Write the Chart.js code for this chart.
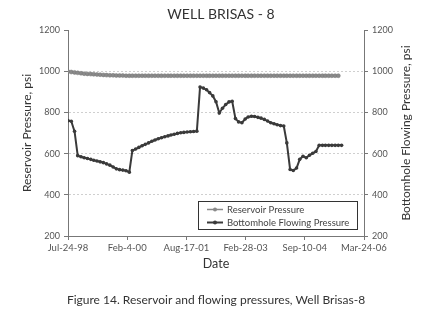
<!DOCTYPE html>
<html>
<head>
<meta charset="utf-8">
<script src="https://cdn.jsdelivr.net/npm/chart.js@4/dist/chart.umd.min.js"></script>
<style>
  html, body { margin: 0; padding: 0; background: #fff; }
  #wrap { width: 433px; height: 318px; }
</style>
</head>
<body>
<div id="wrap"><canvas id="chart" width="433" height="318"></canvas></div>
<script>
// Well Brisas-8: reservoir vs bottomhole flowing pressure, monthly readings from Jul-98

const chartTitle = 'WELL BRISAS - 8';
const caption = 'Figure 14. Reservoir and flowing pressures, Well Brisas-8';
const leftTitle = 'Reservoir Pressure, psi';
const rightTitle = 'Bottomhole Flowing Pressure, psi';
const xTitle = 'Date';

// x axis: days since Jul-24-98, one label every 560 days
const xTickLabels = ['Jul-24-98', 'Feb-4-00', 'Aug-17-01', 'Feb-28-03', 'Sep-10-04', 'Mar-24-06'];
const xTickStep = 560;
const yTicks = [200, 400, 600, 800, 1000, 1200];

const reservoirPressure = [
  998, 996, 994, 992, 990, 988, 987, 986, 985, 984,
  983, 982, 981, 980, 980, 979, 979, 979, 978, 978,
  978, 978, 978, 978, 978, 978, 978, 978, 978, 978,
  978, 978, 978, 978, 978, 978, 978, 978, 978, 978,
  978, 978, 978, 978, 978, 978, 978, 978, 978, 978,
  978, 978, 978, 978, 978, 978, 978, 978, 978, 978,
  978, 978, 978, 978, 978, 978, 978, 978, 978, 978,
  978, 978, 978, 978, 978, 978, 978, 978, 978, 978,
  978, 978, 978, 978, 978
];

const flowingPressure = [
  760, 757, 708, 590, 585, 580, 576, 572, 568, 564,
  560, 556, 550, 544, 535, 526, 522, 520, 517, 510,
  615, 622, 630, 638, 645, 652, 660, 666, 672, 677,
  682, 686, 690, 694, 698, 701, 703, 705, 706, 707,
  709, 923, 918, 910, 896, 880, 852, 797, 820, 838,
  851, 854, 770, 754, 750, 768, 778, 781, 780, 776,
  772, 766, 758, 750, 745, 740, 736, 734, 652, 523,
  518, 530, 572, 587, 580, 592, 602, 610, 640, 640,
  640, 640, 640, 640, 640, 640
];

const FONT = 'Lato, "Noto Sans", sans-serif';
const startDate = new Date(1998, 6, 24);

// day offset of the i-th monthly reading
function monthDay(i) {
  const d = new Date(1998, 6 + i, 24);
  return Math.round((d - startDate) / 86400000);
}

function toPoints(values) {
  return values.map((v, i) => ({ x: monthDay(i), y: v }));
}

const textPlugin = {
  id: 'texts',
  afterDraw(chart) {
    const ctx = chart.ctx;
    const area = chart.chartArea;
    ctx.save();
    ctx.fillStyle = '#333';
    ctx.textAlign = 'center';
    ctx.textBaseline = 'middle';

    ctx.font = '14px ' + FONT;
    ctx.fillText(chartTitle, 221, 14);

    ctx.font = '12.5px ' + FONT;
    ctx.fillText(xTitle, (area.left + area.right) / 2, 264);
    ctx.font = '12px ' + FONT;
    ctx.fillText(caption, 216, 300);

    ctx.font = '12px ' + FONT;
    ctx.save();
    ctx.translate(27, (area.top + area.bottom) / 2);
    ctx.rotate(-Math.PI / 2);
    ctx.fillText(leftTitle, 0, 0);
    ctx.restore();

    ctx.save();
    ctx.translate(406, (area.top + area.bottom) / 2);
    ctx.rotate(-Math.PI / 2);
    ctx.fillText(rightTitle, 0, 0);
    ctx.restore();

    // legend box inside the plot
    const box = { x: 198, y: 201, w: 159, h: 28 };
    ctx.fillStyle = '#fff';
    ctx.fillRect(box.x, box.y, box.w, box.h);
    ctx.strokeStyle = '#333';
    ctx.lineWidth = 1;
    ctx.strokeRect(box.x + 0.5, box.y + 0.5, box.w, box.h);
    chart.data.datasets.forEach((ds, k) => {
      const y = box.y + 8.5 + k * 13;
      ctx.strokeStyle = ds.borderColor;
      ctx.lineWidth = ds.borderWidth;
      ctx.beginPath();
      ctx.moveTo(box.x + 9, y);
      ctx.lineTo(box.x + 25, y);
      ctx.stroke();
      ctx.fillStyle = ds.pointBackgroundColor;
      ctx.beginPath();
      ctx.arc(box.x + 17, y, 2, 0, Math.PI * 2);
      ctx.fill();
      ctx.fillStyle = '#444';
      ctx.textAlign = 'left';
      ctx.font = '9.5px ' + FONT;
      ctx.fillText(ds.label, box.x + 29, y + 0.5);
    });
    ctx.restore();
  }
};

const gridColor = (c) => (c.tick && (c.tick.value === 200 || c.tick.value === 1200)) ? 'rgba(0,0,0,0)' : '#cfcfcf';
const plainNumber = (v) => String(v);

new Chart(document.getElementById('chart'), {
  type: 'line',
  data: {
    datasets: [
      {
        label: 'Reservoir Pressure',
        data: toPoints(reservoirPressure),
        borderColor: '#8a8a8a',
        backgroundColor: '#8a8a8a',
        pointBackgroundColor: '#8a8a8a',
        pointBorderColor: '#777',
        pointBorderWidth: 0.5,
        pointRadius: 2,
        borderWidth: 1.5,
        tension: 0
      },
      {
        label: 'Bottomhole Flowing Pressure',
        data: toPoints(flowingPressure),
        borderColor: '#3a3a3a',
        backgroundColor: '#3a3a3a',
        pointBackgroundColor: '#3a3a3a',
        pointBorderColor: '#3a3a3a',
        pointBorderWidth: 0,
        pointRadius: 1.8,
        borderWidth: 2,
        tension: 0
      }
    ]
  },
  options: {
    responsive: false,
    animation: false,
    layout: { padding: { top: 30, left: 0, right: 0, bottom: 0 } },
    plugins: {
      legend: { display: false },
      tooltip: { enabled: false }
    },
    scales: {
      x: {
        type: 'linear',
        min: 0,
        max: xTickStep * (xTickLabels.length - 1),
        afterFit: (s) => { s.height = 82; },
        ticks: {
          stepSize: xTickStep,
          color: '#555',
          font: { family: FONT, size: 9.5 },
          padding: 2,
          maxRotation: 0,
          callback: (v) => xTickLabels[Math.round(v / xTickStep)]
        },
        grid: { drawOnChartArea: false, drawTicks: true, tickLength: 4, tickColor: '#777' },
        border: { color: '#777', width: 1 }
      },
      y: {
        position: 'left',
        min: yTicks[0],
        max: yTicks[yTicks.length - 1],
        afterFit: (s) => { s.width = 68; },
        afterBuildTicks: (s) => { s.ticks = yTicks.map(v => ({ value: v })); },
        ticks: { color: '#555', font: { family: FONT, size: 9 }, padding: 4, callback: plainNumber },
        grid: { color: gridColor, tickLength: 4, tickColor: '#777', lineWidth: 1 },
        border: { color: '#777', width: 1, dash: [2, 2] }
      },
      y2: {
        position: 'right',
        min: yTicks[0],
        max: yTicks[yTicks.length - 1],
        afterFit: (s) => { s.width = 69; },
        afterBuildTicks: (s) => { s.ticks = yTicks.map(v => ({ value: v })); },
        ticks: { color: '#555', font: { family: FONT, size: 9 }, padding: 4, callback: plainNumber },
        grid: { drawOnChartArea: false, tickLength: 4, tickColor: '#777' },
        border: { color: '#777', width: 1 }
      }
    }
  },
  plugins: [textPlugin]
});
</script>
</body>
</html>
